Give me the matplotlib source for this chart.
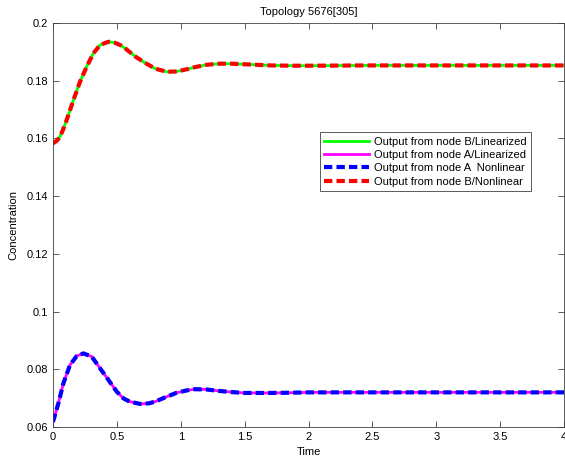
import numpy as np
import matplotlib.pyplot as plt

# values
t_b = [0.0, 0.03, 0.055, 0.08, 0.107, 0.16, 0.212, 0.264, 0.316, 0.369, 0.434, 0.48, 0.525,
       0.565, 0.65, 0.72, 0.8, 0.89, 0.97, 1.05, 1.11, 1.2, 1.3, 1.4, 1.5, 1.6, 1.7, 1.88,
       2.0, 2.5, 3.0, 3.5, 4.0]
node_b = [0.1583, 0.1592, 0.1606, 0.1632, 0.1664, 0.1733, 0.1797, 0.1849, 0.1895, 0.1924,
          0.1935, 0.1932, 0.1924, 0.1912, 0.1882, 0.1862, 0.1842, 0.1831, 0.1832, 0.1840,
          0.1847, 0.1855, 0.1859, 0.1859, 0.1857, 0.1855, 0.1853, 0.1852, 0.1852, 0.1853,
          0.1853, 0.1853, 0.1853]
t_a = [0.0, 0.042, 0.081, 0.133, 0.186, 0.238, 0.303, 0.369, 0.434, 0.5, 0.552, 0.6, 0.68,
       0.75, 0.8, 0.89, 0.97, 1.05, 1.11, 1.2, 1.3, 1.4, 1.5, 1.6, 1.7, 1.88, 2.0, 2.5, 3.0,
       3.5, 4.0]
node_a = [0.0618, 0.0682, 0.0751, 0.0815, 0.0846, 0.0855, 0.0844, 0.0803, 0.0763, 0.0722,
          0.0699, 0.0688, 0.0680, 0.0682, 0.0688, 0.0705, 0.0719, 0.0727, 0.0731, 0.0730,
          0.0725, 0.0721, 0.0718, 0.0718, 0.0718, 0.0719, 0.0720, 0.0720, 0.0720, 0.0720,
          0.0720]

plt.rcParams['font.family'] = ['Liberation Sans', 'DejaVu Sans']
plt.rcParams['font.size'] = 8

fig = plt.figure(figsize=(5.65, 4.65), dpi=100)
ax = fig.add_axes([53 / 565, 38 / 465, 511 / 565, 404 / 465])

ax.plot(t_b, node_b, color='#00ff00', lw=2, label='Output from node B/Linearized')
ax.plot(t_a, node_a, color='#ff00ff', lw=2, label='Output from node A/Linearized')
ax.plot(t_a, node_a, color='#0000ff', lw=3, linestyle=(0, (2, 1)), label='Output from node A  Nonlinear')
ax.plot(t_b, node_b, color='#ff0000', lw=3, linestyle=(0, (2, 1)), label='Output from node B/Nonlinear')

ax.set_xlim(0, 4)
ax.set_ylim(0.06, 0.2)
ax.set_xticks(np.arange(0, 4.01, 0.5))
ax.set_xticklabels(['0', '0.5', '1', '1.5', '2', '2.5', '3', '3.5', '4'])
ax.set_yticks(np.arange(0.06, 0.201, 0.02))
ax.set_yticklabels(['0.06', '0.08', '0.1', '0.12', '0.14', '0.16', '0.18', '0.2'])
ax.tick_params(direction='in', top=True, right=True, length=4, width=0.6, colors='#404040',
               labelcolor='black', labelsize=8)
for s in ax.spines.values():
    s.set_color('#404040')
    s.set_linewidth(0.6)

ax.set_title('Topology 5676[305]', fontsize=8, pad=6)
ax.set_xlabel('Time', fontsize=8, labelpad=4)
ax.set_ylabel('Concentration', fontsize=8, labelpad=6)

leg = ax.legend(loc='upper left', bbox_to_anchor=(0.522, 0.73), fontsize=8, fancybox=False,
                framealpha=1, edgecolor='#404040', handlelength=4, borderpad=0.4,
                labelspacing=0.3, handletextpad=0.5, borderaxespad=0)
leg.get_frame().set_linewidth(0.6)

fig.savefig('out.png', dpi=100)
